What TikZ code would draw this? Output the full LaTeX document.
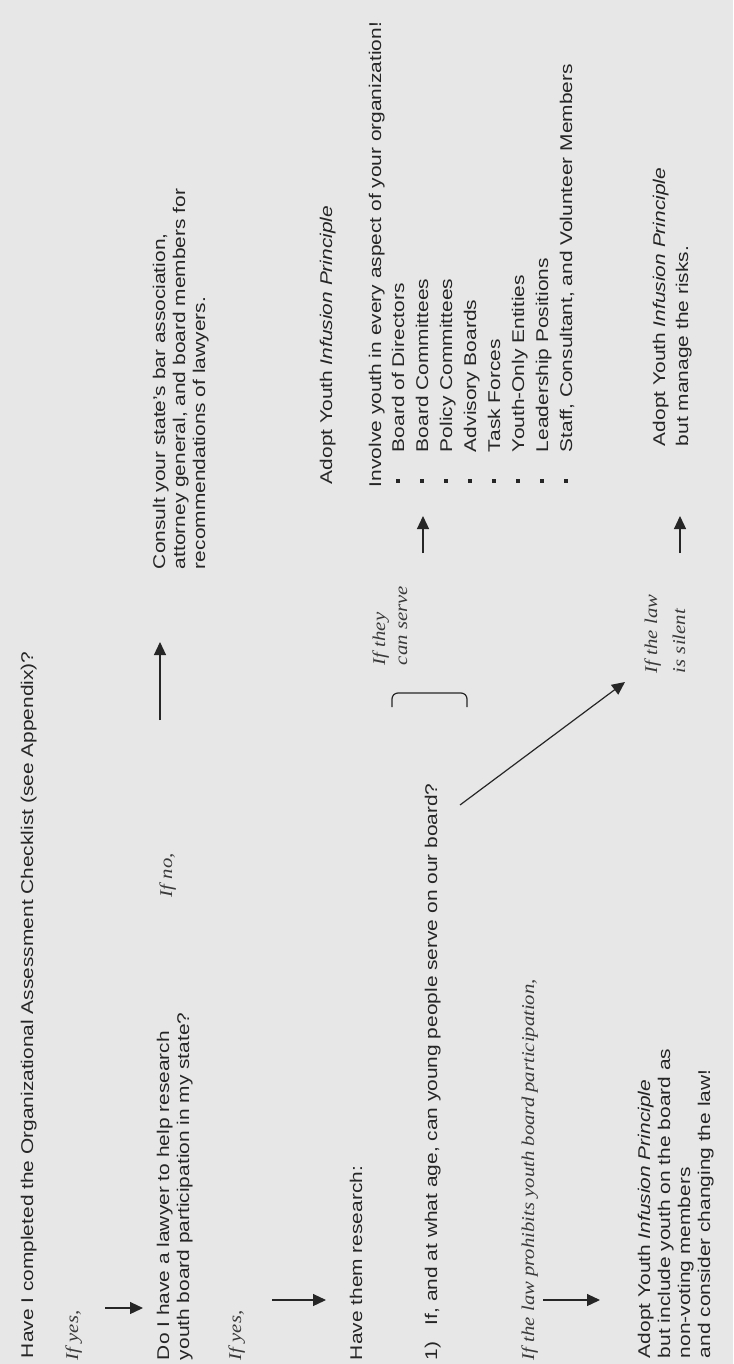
\documentclass[tikz,border=0pt]{standalone}
\usepackage{fontspec}
\usepackage{graphicx}
\setmainfont{Liberation Sans}
\newfontfamily\lblfont{Liberation Serif}
\usetikzlibrary{arrows.meta}
\definecolor{bg}{HTML}{E7E7E7}
\definecolor{ink}{HTML}{262626}
\definecolor{inklbl}{HTML}{3A3A3A}
\newcommand\Sx[1]{\scalebox{1.23}[1]{#1}}
\newcommand\Lx[1]{\scalebox{1.15}[1]{#1}}
\begin{document}
\begin{tikzpicture}[x=0.5pt,y=-0.5pt,
  txt/.style={rotate=90, anchor=base west, inner sep=0pt, outer sep=0pt, text=ink, font=\fontsize{8.5}{10}\selectfont},
  lbl/.style={rotate=90, anchor=base west, inner sep=0pt, outer sep=0pt, text=inklbl, font=\fontsize{9}{10}\lblfont\itshape},
  arr/.style={draw=ink, line width=0.6pt, -{Triangle[length=6.5pt,width=6pt]}},
  bsq/.style={rectangle, fill=ink, minimum size=2.4pt, inner sep=0pt}]
\path[use as bounding box, fill=bg] (0,0) rectangle (733,1364);

% left column
\node[txt] (q1) at (33,1358) {\Sx{Have I completed the Organizational Assessment Checklist (see Appendix)?}};
\node[lbl] (yes1) at (78,1360) {\Lx{If yes,}};
\coordinate (a1s) at (105,1308); \coordinate (a1e) at (143,1308);
\draw[arr] (a1s) -- (a1e);
\node[txt] (do1) at (169,1360) {\Sx{Do I have a lawyer to help research}};
\node[txt] (do2) at (189,1360) {\Sx{youth board participation in my state?}};
\node[lbl] (no1) at (172,897) {\Lx{If no,}};
\coordinate (a2s) at (160,720); \coordinate (a2e) at (160,642);
\draw[arr] (a2s) -- (a2e);
\node[txt] (c1) at (165,569) {\Sx{Consult your state's bar association,}};
\node[txt] (c2) at (185,569) {\Sx{attorney general, and board members for}};
\node[txt] (c3) at (205,569) {\Sx{recommendations of lawyers.}};
\node[lbl] (yes2) at (241,1360) {\Lx{If yes,}};
\coordinate (a3s) at (272,1300); \coordinate (a3e) at (326,1300);
\draw[arr] (a3s) -- (a3e);
\node[txt] (hr) at (362,1360) {\Sx{Have them research:}};
\node[txt] (r1n) at (437,1360) {\Sx{1)}};
\node[txt] (r1) at (437,1325) {\Sx{If, and at what age, can young people serve on our board?}};
\node[lbl] (proh) at (534,1360) {\Lx{If the law prohibits youth board participation,}};
\coordinate (a4s) at (543,1300); \coordinate (a4e) at (600,1300);
\draw[arr] (a4s) -- (a4e);
\node[txt] (ad1) at (650,1358) {\Sx{Adopt Youth \textit{Infusion Principle}}};
\node[txt] (ad2) at (670,1358) {\Sx{but include youth on the board as}};
\node[txt] (ad3) at (690,1358) {\Sx{non-voting members}};
\node[txt] (ad4) at (710,1358) {\Sx{and consider changing the law!}};

% bracket and labels
\draw[ink, line width=0.6pt, rounded corners=3pt] (392,707) -- (392,693) -- (467,693) -- (467,707);
\node[lbl] (they1) at (385,665) {\Lx{If they}};
\node[lbl] (they2) at (407,665) {\Lx{can serve}};
\coordinate (a6s) at (423,553); \coordinate (a6e) at (423,516);
\draw[arr] (a6s) -- (a6e);
\coordinate (d1s) at (460,805); \coordinate (d1e) at (625,682);
\draw[arr] (d1s) -- (d1e);
\node[lbl] (sil1) at (657,673) {\Lx{If the law}};
\node[lbl] (sil2) at (685,673) {\Lx{is silent}};
\coordinate (a5s) at (680,553); \coordinate (a5e) at (680,516);
\draw[arr] (a5s) -- (a5e);

% right column
\node[txt] (adt) at (332,484) {\Sx{Adopt Youth \textit{Infusion Principle}}};
\node[txt] (inv) at (381,487) {\Sx{Involve youth in every aspect of your organization!}};
\foreach \i/\t in {0/Board of Directors,1/Board Committees,2/Policy Committees,3/Advisory Boards,4/Task Forces,5/Youth-Only Entities,6/Leadership Positions,7/{Staff, Consultant, and Volunteer Members}}{
  \node[bsq] (b\i) at (398+24*\i,481) {};
  \node[txt] (it\i) at (404+24*\i,452) {\Sx{\t}};
}
\node[txt] (adl1) at (665,446) {\Sx{Adopt Youth \textit{Infusion Principle}}};
\node[txt] (adl2) at (688,446) {\Sx{but manage the risks.}};
\end{tikzpicture}
\end{document}
